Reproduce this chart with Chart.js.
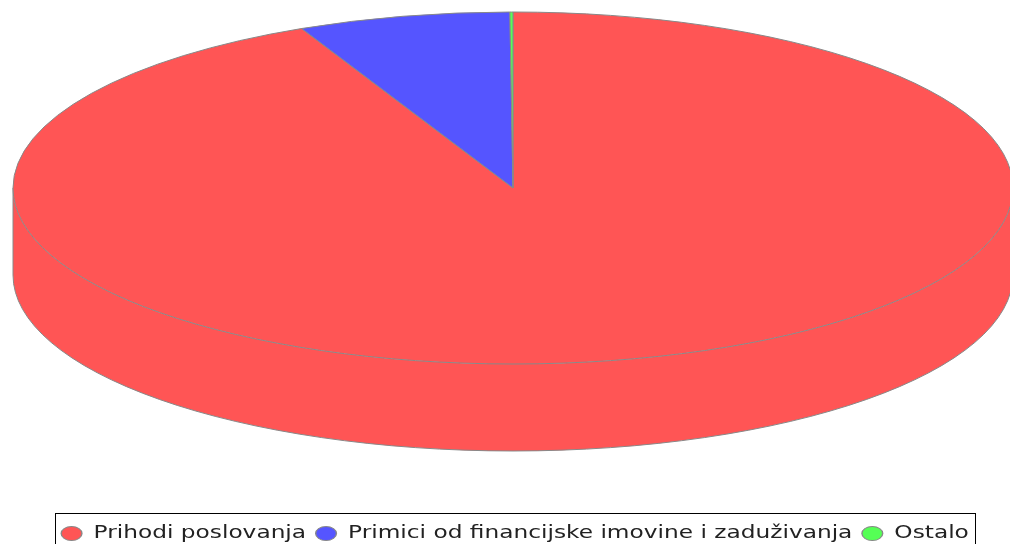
<!DOCTYPE html>
<html>
<head>
<meta charset="utf-8">
<script src="https://cdn.jsdelivr.net/npm/chart.js@4"></script>
<style>
  html, body { margin: 0; padding: 0; background: #fff; overflow: hidden; }
  #wrap { width: 1010px; height: 560px; }
</style>
</head>
<body>
<div id="wrap"><canvas id="pie"></canvas></div>
<script>
const labels = ["Prihodi poslovanja", "Primici od financijske imovine i zaduživanja", "Ostalo"];
const values = [93.05, 6.85, 0.1];
const colors = ["#ff5555", "#5555ff", "#55ff55"];

// geometry of the flattened "3d" pie
const cx = 513, cy = 188, rx = 500, ry = 176, depth = 87;
// legend in the original is stretched sideways
const legendStretch = 1.368, legendCenter = 515;

// draws the pie as a tilted disc, using the angles chart.js worked out
const pie3d = {
    id: "pie3d",
    beforeDraw(chart) {
        const lg = chart.legend;
        if (!lg || lg._stretched) return;
        const origDraw = lg.draw.bind(lg);
        lg.draw = function () {
            const boxes = lg.legendHitBoxes;
            let left = Infinity, right = -Infinity;
            boxes.forEach(b => {
                left = Math.min(left, b.left);
                right = Math.max(right, b.left + b.width);
            });
            const mid = (left + right) / 2;
            const ctx = chart.ctx;
            ctx.save();
            ctx.translate(legendCenter, 0);
            ctx.scale(legendStretch, 1);
            ctx.translate(-mid, 0);
            origDraw();
            ctx.restore();

            // box round the legend, in screen coords
            let top = Infinity, bottom = -Infinity;
            boxes.forEach(b => {
                top = Math.min(top, b.top);
                bottom = Math.max(bottom, b.top + b.height);
            });
            const x0 = legendCenter + (left - mid) * legendStretch - 6;
            const x1 = legendCenter + (right - mid) * legendStretch + 6;
            ctx.save();
            ctx.strokeStyle = "#000";
            ctx.lineWidth = 1;
            ctx.strokeRect(Math.round(x0) + 0.5, Math.round(top) - 11.5, Math.round(x1 - x0), bottom - top + 22);
            ctx.restore();
        };
        lg._stretched = true;
    },
    beforeDatasetsDraw(chart) {
        const ctx = chart.ctx;
        const arcs = chart.getDatasetMeta(0).data;
        ctx.save();
        ctx.lineWidth = 1;
        ctx.strokeStyle = "#888888";

        // side wall (only front half shows)
        arcs.forEach((arc, i) => {
            const a0 = Math.max(arc.startAngle, 0);
            const a1 = Math.min(arc.endAngle, Math.PI);
            if (a1 <= a0) return;
            ctx.beginPath();
            ctx.ellipse(cx, cy, rx, ry, 0, a0, a1);
            ctx.ellipse(cx, cy + depth, rx, ry, 0, a1, a0, true);
            ctx.closePath();
            ctx.fillStyle = colors[i];
            ctx.fill();
        });
        ctx.beginPath();
        ctx.moveTo(cx + rx, cy);
        ctx.lineTo(cx + rx, cy + depth);
        ctx.ellipse(cx, cy + depth, rx, ry, 0, 0, Math.PI);
        ctx.lineTo(cx - rx, cy);
        ctx.stroke();

        // top face
        arcs.forEach((arc, i) => {
            ctx.beginPath();
            ctx.moveTo(cx, cy);
            ctx.ellipse(cx, cy, rx, ry, 0, arc.startAngle, arc.endAngle);
            ctx.closePath();
            ctx.fillStyle = colors[i];
            ctx.fill();
            ctx.stroke();
        });
        ctx.restore();
        return false;
    }
};

new Chart(document.getElementById("pie"), {
    type: "pie",
    data: {
        labels: labels,
        datasets: [{
            data: values,
            backgroundColor: colors,
            borderColor: "#888888",
            borderWidth: 1
        }]
    },
    plugins: [pie3d],
    options: {
        responsive: true,
        maintainAspectRatio: false,
        animation: false,
        layout: { padding: { bottom: 8 } },
        plugins: {
            tooltip: { enabled: false },
            legend: {
                position: "bottom",
                labels: {
                    usePointStyle: true,
                    pointStyle: "circle",
                    pointStyleWidth: 15.2,
                    boxHeight: 10,
                    padding: 7,
                    color: "#222",
                    font: { family: "DejaVu Sans", size: 17 }
                }
            }
        }
    }
});
</script>
</body>
</html>
